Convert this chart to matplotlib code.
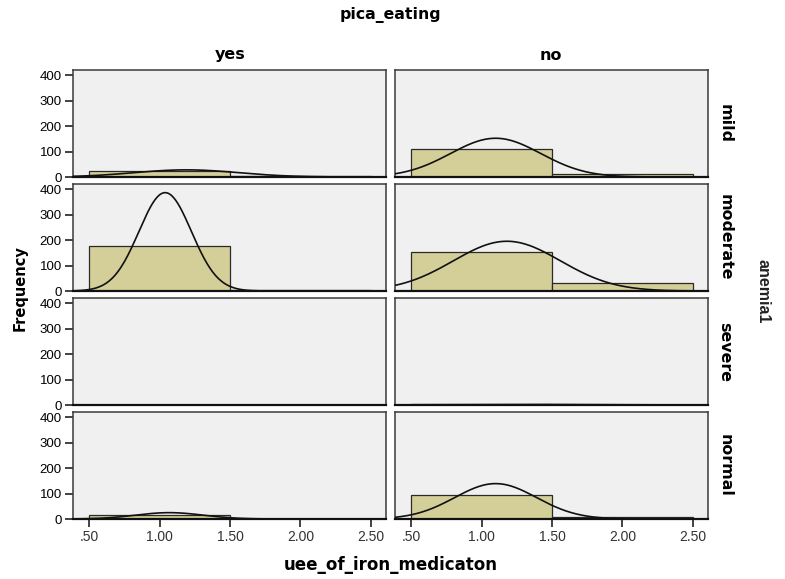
import numpy as np
import matplotlib
matplotlib.use("Agg")
import matplotlib.pyplot as plt

# bins of uee_of_iron_medicaton (edges .50-1.50, 1.50-2.50)
bin_left = [0.5, 1.5]
bin_width = 1.0

rows = ["mild", "moderate", "severe", "normal"]
cols = ["yes", "no"]

# counts per panel [row][col] -> [bin1, bin2]
counts = {
    ("mild", "yes"): [23, 3],
    ("mild", "no"): [110, 12],
    ("moderate", "yes"): [177, 3],
    ("moderate", "no"): [153, 33],
    ("severe", "yes"): [0, 0],
    ("severe", "no"): [2, 1],
    ("normal", "yes"): [14, 1],
    ("normal", "no"): [93, 8],
}
# fitted normal curve (mean, sd) per panel
curve_mean = {
    ("mild", "yes"): 1.19, ("mild", "no"): 1.10,
    ("moderate", "yes"): 1.04, ("moderate", "no"): 1.18,
    ("severe", "yes"): None, ("severe", "no"): 1.33,
    ("normal", "yes"): 1.07, ("normal", "no"): 1.10,
}
curve_sd = {
    ("mild", "yes"): 0.37, ("mild", "no"): 0.32,
    ("moderate", "yes"): 0.186, ("moderate", "no"): 0.38,
    ("severe", "yes"): None, ("severe", "no"): 0.58,
    ("normal", "yes"): 0.24, ("normal", "no"): 0.29,
}

bar_color = "#D4CE98"
panel_bg = "#F0F0F0"
edge = "#3A3A3A"
xlim = (0.386, 2.607)
ylim = (0, 420)

fig = plt.figure(figsize=(7.85, 5.79), dpi=100)
fig.patch.set_facecolor("white")

col_left = [73 / 785, 395 / 785]
col_w = 313 / 785
row_top = [70, 184, 298, 412]
row_h = 107

xs = np.linspace(xlim[0], xlim[1], 300)
bold = dict(fontweight="bold", family="DejaVu Sans")

for i, r in enumerate(rows):
    for j, c in enumerate(cols):
        bottom = 1 - (row_top[i] + row_h) / 579
        ax = fig.add_axes([col_left[j], bottom, col_w, row_h / 579])
        ax.set_facecolor(panel_bg)
        cnt = counts[(r, c)]
        ax.bar(bin_left, cnt, width=bin_width, align="edge", color=bar_color,
               edgecolor="#2a2a2a", linewidth=0.9, zorder=2)
        m, s = curve_mean[(r, c)], curve_sd[(r, c)]
        if m is not None:
            n = sum(cnt)
            ys = n * bin_width / (s * np.sqrt(2 * np.pi)) * np.exp(-0.5 * ((xs - m) / s) ** 2)
            ax.plot(xs, ys, color="#111111", linewidth=1.2, zorder=3)
        ax.set_xlim(*xlim)
        ax.set_ylim(*ylim)
        for sp in ax.spines.values():
            sp.set_color(edge)
            sp.set_linewidth(1.1)
        ax.spines["bottom"].set_color("#111111")
        ax.spines["bottom"].set_linewidth(1.6)
        ax.set_yticks([0, 100, 200, 300, 400])
        ax.set_xticks([0.5, 1.0, 1.5, 2.0, 2.5])
        ax.tick_params(axis="both", direction="out", length=6, width=1.2,
                       color="#222222", pad=2)
        if j == 0:
            ax.set_yticklabels(["0", "100", "200", "300", "400"],
                               family="Liberation Sans", fontsize=9.5)
        else:
            ax.tick_params(axis="y", left=False, labelleft=False)
        if i == len(rows) - 1:
            ax.set_xticklabels([".50", "1.00", "1.50", "2.00", "2.50"],
                               family="Liberation Sans", fontsize=10, color="#333333")
        else:
            ax.tick_params(axis="x", bottom=False, labelbottom=False)
        if j == 1:
            ax.text(1.03, 0.5, r, transform=ax.transAxes, rotation=-90,
                    ha="left", va="center", fontsize=11.4, **bold)

fig.text(0.497, 0.974, "pica_eating", ha="center", va="center", fontsize=11.3, **bold)
fig.text(230 / 785, 1 - 55 / 579, "yes", ha="center", va="center", fontsize=11.5, **bold)
fig.text(551 / 785, 1 - 55 / 579, "no", ha="center", va="center", fontsize=11.5, **bold)
fig.text(0.972, 1 - 291 / 579, "anemia1", rotation=-90, ha="center", va="center",
         fontsize=11.5, fontweight="bold", family="Liberation Sans", color="#222222")
fig.text(0.026, 1 - 288 / 579, "Frequency", rotation=90, ha="center", va="center",
         fontsize=10.5, **bold)
fig.text(0.4975, 1 - 565 / 579, "uee_of_iron_medicaton", ha="center", va="center",
         fontsize=12, **bold)

fig.savefig("out.png", dpi=100, facecolor="white")
